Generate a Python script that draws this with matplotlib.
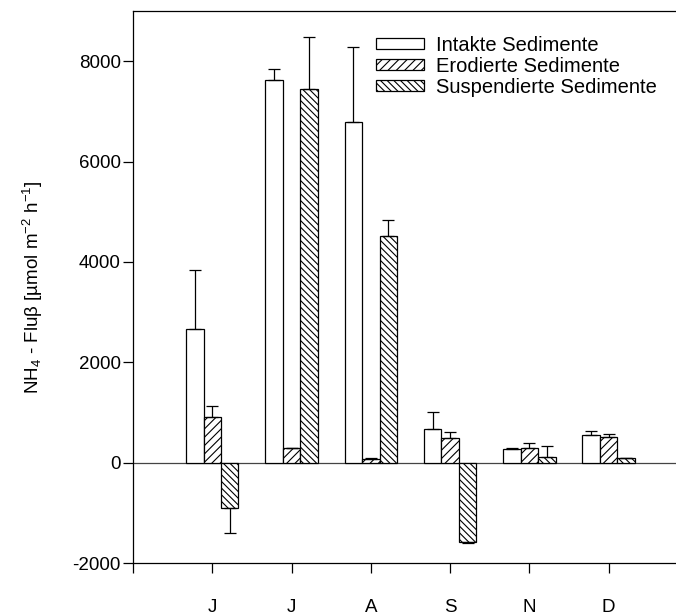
import numpy as np
import matplotlib
matplotlib.use("Agg")
import matplotlib.pyplot as plt

plt.rcParams['font.family'] = ['Liberation Sans', 'DejaVu Sans']
plt.rcParams['mathtext.default'] = 'regular'
plt.rcParams['axes.unicode_minus'] = False
plt.rcParams['hatch.linewidth'] = 0.8

# data
months = ['J', 'J', 'A', 'S', 'N', 'D']
intakt = [2670, 7630, 6780, 665, 272, 551]
intakt_err = [1170, 205, 1500, 345, 10, 85]
erodiert = [915, 287, 70, 486, 287, 505]
erodiert_err = [210, 0, 30, 120, 100, 60]
suspend = [-895, 7445, 4510, -1585, 120, 100]
suspend_err = [510, 1035, 325, 15, 210, 0]

series = [
    ('Intakte Sedimente', intakt, intakt_err, ''),
    ('Erodierte Sedimente', erodiert, erodiert_err, '////'),
    ('Suspendierte Sedimente', suspend, suspend_err, '\\\\\\\\\\'),
]

fig = plt.figure(figsize=(6.76, 6.16), dpi=100)
ax = fig.add_axes([133 / 676, 53 / 616, 1 - 133 / 676, 552 / 616])

x = np.arange(1, len(months) + 1)
w = 0.22
for i, (name, vals, err, hatch) in enumerate(series):
    vals = np.array(vals, dtype=float)
    err = np.array(err, dtype=float)
    pos = x + (i - 1) * w
    ax.bar(pos, vals, w, color='white', edgecolor='black', linewidth=0.9,
           hatch=hatch, label=name, zorder=2)
    lower = np.where(vals < 0, err, 0)
    upper = np.where(vals >= 0, err, 0)
    ax.errorbar(pos, vals, yerr=[lower, upper], fmt='none', ecolor='black',
                elinewidth=0.9, capsize=4, capthick=0.9, zorder=3)

ax.axhline(0, color='#444444', linewidth=0.9, zorder=1)

ax.set_xlim(0, 6.85)
ax.set_ylim(-2000, 9000)
ax.set_xticks(np.arange(0, len(months) + 1))
ax.set_xticklabels([''] + months)
ax.set_yticks([-2000, 0, 2000, 4000, 6000, 8000])
ax.tick_params(axis='both', direction='out', length=7.2, width=0.9, labelsize=13.5)
ax.tick_params(axis='x', pad=19)
ax.tick_params(axis='y', pad=1.5)
ax.spines['right'].set_visible(False)
for s in ['left', 'top', 'bottom']:
    ax.spines[s].set_linewidth(0.9)

ax.set_ylabel(r'NH$_4$ - Fluβ [µmol m$^{-2}$ h$^{-1}$]', fontsize=13.5, labelpad=20)

ax.legend(loc='upper left', bbox_to_anchor=(0.4326, 0.97), frameon=False,
          fontsize=14.5, handlelength=2.4, handleheight=0.5, handletextpad=0.6,
          labelspacing=0.1, borderaxespad=0)

fig.savefig('out.png', dpi=100)
